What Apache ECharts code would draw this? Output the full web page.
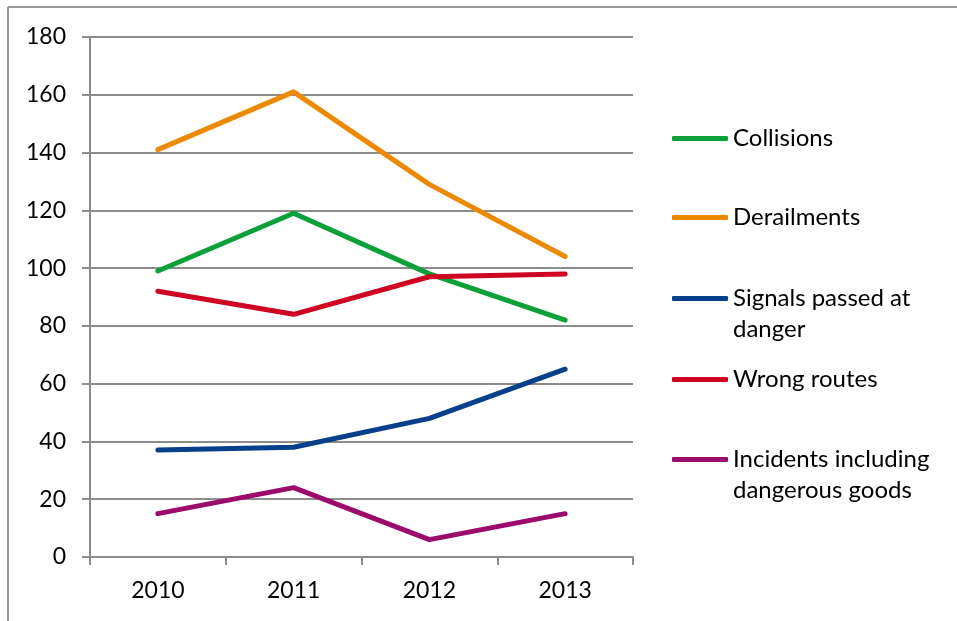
<!DOCTYPE html>
<html>
<head>
<meta charset="utf-8">
<script src="https://cdn.jsdelivr.net/npm/echarts@6/dist/echarts.min.js"></script>
<style>
  html, body { margin: 0; padding: 0; background: #fff; }
  #chart { width: 957px; height: 621px; }
</style>
</head>
<body>
<div id="chart"></div>
<script>
// Railway incident counts by year
const years = ['2010', '2011', '2012', '2013'];
const collisions = [99, 119, 98, 82];
const derailments = [141, 161, 129, 104];
const signalsPassed = [37, 38, 48, 65];
const wrongRoutes = [92, 84, 97, 98];
const dangerousGoods = [15, 24, 6, 15];
const yTicks = { min: 0, max: 180, interval: 20 };

// Two-line legend names get a blank leading line so the key line sits level with the first line
const seriesDefs = [
  { name: 'Collisions', label: 'Collisions', data: collisions, color: '#0BA03A', top: 123 },
  { name: 'Derailments', label: 'Derailments', data: derailments, color: '#EC8900', top: 202 },
  { name: 'Signals passed at danger', label: '\nSignals passed at\ndanger', data: signalsPassed, color: '#063F8A', top: 252 },
  { name: 'Wrong routes', label: 'Wrong routes', data: wrongRoutes, color: '#CE0422', top: 364 },
  { name: 'Incidents including dangerous goods', label: '\nIncidents including\ndangerous goods', data: dangerousGoods, color: '#9C0A6C', top: 413 }
];

const FONT = 'Lato, "Open Sans", sans-serif';
const GRID_GREY = '#8C8C8C';
const LINE_H = 31;

const chart = echarts.init(document.getElementById('chart'), null, { renderer: 'canvas' });

chart.setOption({
  backgroundColor: '#ffffff',
  animation: false,
  textStyle: { fontFamily: FONT, color: '#000' },
  grid: { left: 90, right: 324, top: 37, bottom: 64, containLabel: false },
  xAxis: {
    type: 'category',
    data: years,
    boundaryGap: true,
    axisLine: { lineStyle: { color: GRID_GREY, width: 2 } },
    axisTick: { show: true, length: 8, lineStyle: { color: GRID_GREY, width: 2 } },
    axisLabel: { color: '#000', fontSize: 23, fontFamily: FONT, margin: 22 },
    splitLine: { show: false }
  },
  yAxis: {
    type: 'value',
    min: yTicks.min,
    max: yTicks.max,
    interval: yTicks.interval,
    axisLine: { show: true, lineStyle: { color: GRID_GREY, width: 2 } },
    axisTick: { show: true, length: 8, lineStyle: { color: GRID_GREY, width: 2 } },
    axisLabel: { color: '#000', fontSize: 23, fontFamily: FONT, margin: 24 },
    splitLine: { show: true, lineStyle: { color: GRID_GREY, width: 2 } }
  },
  legend: seriesDefs.map(d => ({
    data: [{ name: d.name }],
    left: 672,
    top: d.top,
    orient: 'vertical',
    icon: 'roundRect',
    itemWidth: 56,
    itemHeight: 5,
    itemGap: 0,
    padding: 0,
    selectedMode: false,
    formatter: () => d.label,
    textStyle: {
      fontFamily: FONT,
      fontSize: 24,
      color: '#000',
      lineHeight: LINE_H
    }
  })),
  graphic: [
    { type: 'line', shape: { x1: 8, y1: 7, x2: 957, y2: 7 }, style: { stroke: '#9A9A9A', lineWidth: 2 }, silent: true },
    { type: 'line', shape: { x1: 8, y1: 7, x2: 8, y2: 621 }, style: { stroke: '#9A9A9A', lineWidth: 2 }, silent: true }
  ],
  series: seriesDefs.map(d => ({
    name: d.name,
    type: 'line',
    data: d.data,
    symbol: 'none',
    showSymbol: false,
    smooth: false,
    itemStyle: { color: d.color },
    lineStyle: { color: d.color, width: 5, cap: 'round', join: 'round' }
  }))
});
</script>
</body>
</html>
